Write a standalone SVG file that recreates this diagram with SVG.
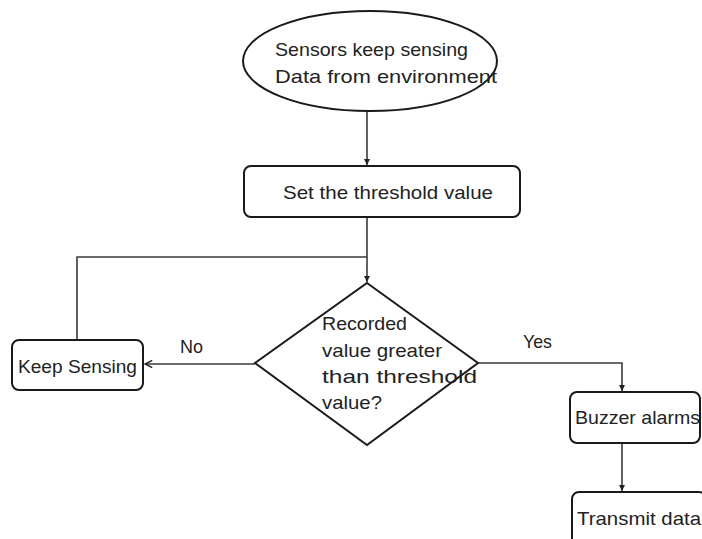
<svg xmlns="http://www.w3.org/2000/svg" width="702" height="539" viewBox="0 0 702 539">
<style>
.shape{fill:#fff;stroke:#1a1a1a;stroke-width:2}
.conn{fill:none;stroke:#3a3a3a;stroke-width:1.6}
.t{font-family:"Liberation Sans",Arial,sans-serif;font-size:19px;fill:#222}
</style>
<defs>
<marker id="arr" viewBox="0 0 8 8" refX="8" refY="4" markerWidth="6" markerHeight="6" markerUnits="userSpaceOnUse" orient="auto">
<path d="M0,0 L8,4 L0,8 z" fill="#222"/>
</marker>
<marker id="open" viewBox="0 0 10 10" refX="9" refY="5" markerWidth="9" markerHeight="9" markerUnits="userSpaceOnUse" orient="auto">
<path d="M1,1 L9,5 L1,9" fill="none" stroke="#222" stroke-width="1.6"/>
</marker>
</defs>
<g id="connectors">
<line class="conn" x1="367" y1="111" x2="367" y2="165" marker-end="url(#arr)"/>
<line class="conn" x1="367" y1="217" x2="367" y2="282" marker-end="url(#arr)"/>
<polyline class="conn" points="77,339 77,257 367,257"/>
<line class="conn" x1="255" y1="364" x2="145" y2="364" marker-end="url(#open)"/>
<polyline class="conn" points="478,363 622,363 622,391" marker-end="url(#arr)"/>
<line class="conn" x1="622" y1="443" x2="622" y2="491" marker-end="url(#arr)"/>
<text class="t" x="180" y="353" textLength="23" lengthAdjust="spacingAndGlyphs">No</text>
<text class="t" x="523" y="348" textLength="29" lengthAdjust="spacingAndGlyphs">Yes</text>
</g>
<g id="start">
<ellipse class="shape" cx="370" cy="61" rx="127" ry="50"/>
<text class="t" x="275" y="56" textLength="193" lengthAdjust="spacingAndGlyphs">Sensors keep sensing</text>
<text class="t" x="275" y="83" textLength="222" lengthAdjust="spacingAndGlyphs">Data from environment</text>
</g>
<g id="threshold">
<rect class="shape" x="244" y="166" width="276" height="51" rx="7"/>
<text class="t" x="283" y="199" textLength="210" lengthAdjust="spacingAndGlyphs">Set the threshold value</text>
</g>
<g id="decision">
<polygon class="shape" points="367,283 478,363 367,445 255,363"/>
<text class="t" x="322" y="330" textLength="85" lengthAdjust="spacingAndGlyphs">Recorded</text>
<text class="t" x="322" y="357" textLength="120" lengthAdjust="spacingAndGlyphs">value greater</text>
<text class="t" x="322" y="383" textLength="155" lengthAdjust="spacingAndGlyphs">than threshold</text>
<text class="t" x="322" y="409" textLength="60" lengthAdjust="spacingAndGlyphs">value?</text>
</g>
<g id="keep">
<rect class="shape" x="12" y="340" width="131" height="50" rx="7"/>
<text class="t" x="18" y="373" textLength="119" lengthAdjust="spacingAndGlyphs">Keep Sensing</text>
</g>
<g id="buzzer">
<rect class="shape" x="570" y="392" width="130" height="51" rx="7"/>
<text class="t" x="575" y="424" textLength="125" lengthAdjust="spacingAndGlyphs">Buzzer alarms</text>
</g>
<g id="transmit">
<rect class="shape" x="572" y="492" width="134" height="60" rx="7"/>
<text class="t" x="577" y="525" textLength="124" lengthAdjust="spacingAndGlyphs">Transmit data</text>
</g>
</svg>
